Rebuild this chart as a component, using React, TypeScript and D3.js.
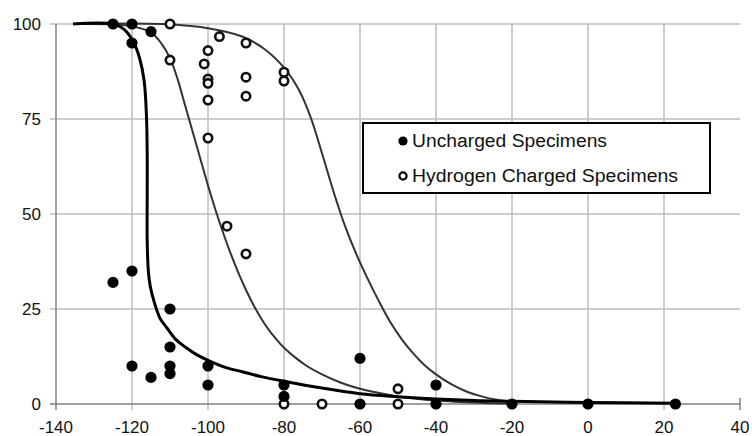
import React from 'react'
import * as d3 from 'd3'

// test temperature (x) vs fracture appearance / percent (y)
const unchargedX = [-125, -120, -115, -120, -120, -125, -110, -110, -120, -110, -110, -115, -100, -100, -80, -80, -60, -60, -40, -40, -20, 0, 23]
const unchargedY = [100, 100, 98, 95, 35, 32, 25, 15, 10, 10, 8, 7, 10, 5, 5, 2, 12, 0, 5, 0, 0, 0, 0]

const chargedX = [-110, -110, -100, -101, -100, -100, -100, -100, -97, -90, -90, -90, -80, -80, -95, -90, -80, -70, -50, -50]
const chargedY = [100, 90.5, 93, 89.5, 85.5, 84.4, 80, 70, 96.7, 95, 86, 81, 87.3, 85, 46.8, 39.5, 0, 0, 4, 0]

// fitted curves
const fitUnchargedX = [-135.5, -125, -122, -119.5, -118, -116.8, -116.2, -116, -116, -116, -115.7, -115.2, -114.2, -112.6, -110.8, -108.5, -106, -103, -100, -95, -91, -86, -80, -70, -60, -50, -40, -30, -20, 0, 23]
const fitUnchargedY = [100, 100, 98.5, 95, 91, 85, 76, 66, 55, 43, 35, 31, 27, 22.5, 20, 17, 15, 13, 11.5, 9.5, 8.5, 7.2, 6, 4.2, 2.7, 1.9, 1.3, 0.9, 0.7, 0.4, 0.2]

const fitChargedAX = [-135.5, -125, -120, -115, -112, -110, -108, -106, -104, -102, -100, -98, -96, -94, -92, -90, -88, -86, -84, -82, -80, -77, -74, -70, -65, -60, -55, -50, -45, -40, -35, -30, -25, -20]
const fitChargedAY = [100, 99.9, 99.4, 97.8, 94.5, 91, 85.5, 78.5, 71.5, 64.5, 57.5, 51, 45, 39.5, 34.5, 30, 26, 22.5, 19.5, 17, 14.8, 12.2, 10, 7.8, 5.6, 4, 2.9, 2, 1.4, 0.9, 0.6, 0.4, 0.2, 0.1]

const fitChargedBX = [-135.5, -112, -100, -91, -85, -80, -76, -73, -70, -67, -64, -61, -58, -55, -52, -49, -46, -43, -40, -36, -32, -28, -24, -20]
const fitChargedBY = [100, 100, 98.9, 96.7, 93.3, 88.5, 82.5, 75.5, 66, 56, 47, 39.5, 33, 27, 21.5, 17, 13.3, 10.2, 7.8, 5.2, 3.3, 2, 1.1, 0.6]

const xTicks = [-140, -120, -100, -80, -60, -40, -20, 0, 20, 40]
const yTicks = [0, 25, 50, 75, 100]
const legendLabels = ['Uncharged Specimens', 'Hydrogen Charged Specimens']

const W = 752
const H = 436
const FONT = '"Liberation Sans", Arial, sans-serif'

export default function App() {
  const x = d3.scaleLinear().domain([-140, 40]).range([56, 740])
  const y = d3.scaleLinear().domain([0, 100]).range([404, 24])

  const line = d3.line<[number, number]>()
    .x(d => x(d[0]))
    .y(d => y(d[1]))
    .curve(d3.curveCatmullRom.alpha(0.5))

  const zip = (a: number[], b: number[]) => a.map((v, i) => [v, b[i]] as [number, number])

  return (
    <svg width={W} height={H} style={{ position: 'absolute', left: 0, top: 0, background: '#fff' }}>
      <rect width={W} height={H} fill="#fff" />
      {/* grid */}
      {xTicks.filter(t => t > -140 && t < 40).map(t => (
        <line key={'gx' + t} x1={x(t)} x2={x(t)} y1={y(100)} y2={y(0) + 6} stroke="#bdbdbd" strokeWidth={1.5} />
      ))}
      {yTicks.filter(t => t > 0).map(t => (
        <line key={'gy' + t} x1={x(-140) - 6} x2={x(40)} y1={y(t)} y2={y(t)} stroke="#bdbdbd" strokeWidth={1.5} />
      ))}
      {/* axes */}
      <line x1={x(-140)} x2={x(-140)} y1={y(100)} y2={y(0) + 6} stroke="#808080" strokeWidth={1.5} />
      <line x1={x(-140) - 6} x2={x(40)} y1={y(0)} y2={y(0)} stroke="#808080" strokeWidth={1.5} />
      <line x1={x(40)} x2={x(40)} y1={y(0) - 6} y2={y(0) + 6} stroke="#808080" strokeWidth={1.5} />

      {xTicks.map(t => (
        <text key={'tx' + t} x={x(t)} y={433} textAnchor="middle" fontFamily={FONT} fontSize={17} fill="#111">{t}</text>
      ))}
      {yTicks.map(t => (
        <text key={'ty' + t} x={41} y={y(t)} dy="0.35em" textAnchor="end" fontFamily={FONT} fontSize={17} fill="#111">{t}</text>
      ))}

      {/* fitted curves */}
      <path d={line(zip(fitChargedBX, fitChargedBY)) || ''} fill="none" stroke="#333" strokeWidth={2} />
      <path d={line(zip(fitChargedAX, fitChargedAY)) || ''} fill="none" stroke="#333" strokeWidth={2} />
      <path d={line(zip(fitUnchargedX, fitUnchargedY)) || ''} fill="none" stroke="#000" strokeWidth={3} />

      {/* points */}
      {chargedX.map((v, i) => (
        <circle key={'c' + i} cx={x(v)} cy={y(chargedY[i])} r={4.2} fill="#fff" stroke="#111" strokeWidth={2.6} />
      ))}
      {unchargedX.map((v, i) => (
        <circle key={'u' + i} cx={x(v)} cy={y(unchargedY[i])} r={5.6} fill="#000" />
      ))}

      {/* legend */}
      <rect x={363} y={123} width={347} height={70} fill="#fff" stroke="#000" strokeWidth={2} />
      <circle cx={403} cy={141} r={4.6} fill="#000" />
      <circle cx={403} cy={176} r={3.6} fill="#fff" stroke="#000" strokeWidth={2.2} />
      <text x={412} y={141} dy="0.35em" fontFamily={FONT} fontSize={18} textLength={195} lengthAdjust="spacingAndGlyphs" fill="#111">{legendLabels[0]}</text>
      <text x={412} y={176} dy="0.35em" fontFamily={FONT} fontSize={18} textLength={266} lengthAdjust="spacingAndGlyphs" fill="#111">{legendLabels[1]}</text>
    </svg>
  )
}
